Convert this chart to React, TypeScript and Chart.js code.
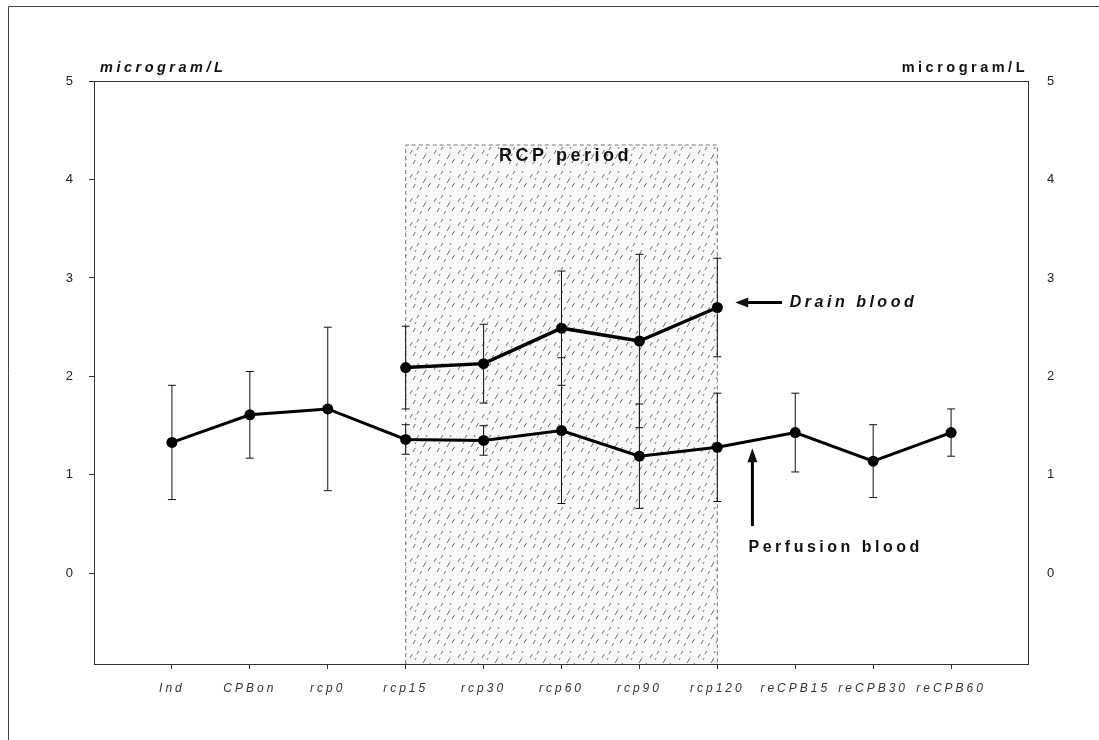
import React, { useEffect, useRef } from "react";
import { Chart, registerables } from "chart.js";

Chart.register(...registerables);

const categories = ["Ind", "CPBon", "rcp0", "rcp15", "rcp30", "rcp60", "rcp90", "rcp120", "reCPB15", "reCPB30", "reCPB60"];
const perfusion = [1.33, 1.61, 1.67, 1.36, 1.35, 1.45, 1.19, 1.28, 1.43, 1.14, 1.43];
const perfusionErr = [0.58, 0.44, 0.83, 0.15, 0.15, 0.74, 0.53, 0.55, 0.4, 0.37, 0.24];
const drain: (number | null)[] = [null, null, null, 2.09, 2.13, 2.49, 2.36, 2.7, null, null, null];
const drainErr: (number | null)[] = [null, null, null, 0.42, 0.4, 0.58, 0.88, 0.5, null, null, null];
const yTicks = [0, 1, 2, 3, 4, 5];
const yMin = -0.92;
const yMax = 5;
const rcpStart = 3;
const rcpEnd = 7;
const rcpTop = 4.35;

const FONT = "'Liberation Sans', Arial, sans-serif";

function makePattern(ctx: CanvasRenderingContext2D) {
  const tile = document.createElement("canvas");
  tile.width = 24;
  tile.height = 24;
  const t = tile.getContext("2d")!;
  t.fillStyle = "#f8f8f8";
  t.fillRect(0, 0, 24, 24);
  t.strokeStyle = "#707070";
  t.lineWidth = 1;
  const strokes = [
    [2, 6, 4], [9, 3, 3], [15, 10, 5], [5, 16, 4], [12, 19, 3], [20, 15, 4], [7, 10, 2], [18, 3, 2],
  ];
  strokes.forEach(([x, y, l]) => {
    t.beginPath();
    t.moveTo(x, y + l);
    t.lineTo(x + l * 0.6, y);
    t.stroke();
  });
  return ctx.createPattern(tile, "repeat");
}

function arrowHead(ctx: CanvasRenderingContext2D, tx: number, ty: number, dx: number, dy: number, len: number, half: number) {
  const px = -dy, py = dx;
  ctx.beginPath();
  ctx.moveTo(tx, ty);
  ctx.lineTo(tx + dx * len + px * half, ty + dy * len + py * half);
  ctx.lineTo(tx + dx * len - px * half, ty + dy * len - py * half);
  ctx.closePath();
  ctx.fill();
}

const annotPlugin = {
  id: "annot",
  beforeDraw(chart: any) {
    const ctx = chart.ctx as CanvasRenderingContext2D;
    (ctx as any).letterSpacing = "3px";
  },
  beforeDatasetsDraw(chart: any) {
    const ctx = chart.ctx as CanvasRenderingContext2D;
    const xs = chart.scales.x, ys = chart.scales.y;
    const ca = chart.chartArea;
    const x0 = xs.getPixelForValue(rcpStart), x1 = xs.getPixelForValue(rcpEnd);
    const yT = ys.getPixelForValue(rcpTop);
    ctx.save();
    const pat = makePattern(ctx);
    if (pat) ctx.fillStyle = pat;
    ctx.fillRect(x0, yT, x1 - x0, ca.bottom - yT);
    ctx.strokeStyle = "#777";
    ctx.lineWidth = 1;
    ctx.setLineDash([4, 3]);
    ctx.beginPath();
    ctx.moveTo(x0, ca.bottom);
    ctx.lineTo(x0, yT);
    ctx.lineTo(x1, yT);
    ctx.lineTo(x1, ca.bottom);
    ctx.stroke();
    ctx.setLineDash([]);
    ctx.strokeStyle = "#111";
    ctx.lineWidth = 1;
    const bars = (vals: (number | null)[], errs: (number | null)[]) => {
      vals.forEach((v, i) => {
        const e = errs[i];
        if (v == null || e == null) return;
        const x = xs.getPixelForValue(i);
        const yTop = ys.getPixelForValue(v + e);
        const yBot = ys.getPixelForValue(v - e);
        ctx.beginPath();
        ctx.moveTo(x, yTop);
        ctx.lineTo(x, yBot);
        ctx.moveTo(x - 4, yTop);
        ctx.lineTo(x + 4, yTop);
        ctx.moveTo(x - 4, yBot);
        ctx.lineTo(x + 4, yBot);
        ctx.stroke();
      });
    };
    bars(perfusion, perfusionErr);
    bars(drain, drainErr);
    ctx.restore();
  },
  afterDraw(chart: any) {
    const ctx = chart.ctx as CanvasRenderingContext2D;
    const xs = chart.scales.x, ys = chart.scales.y;
    const ca = chart.chartArea;
    ctx.save();
    ctx.strokeStyle = "#444";
    ctx.lineWidth = 1;
    ctx.beginPath();
    ctx.moveTo(8.5, 740);
    ctx.lineTo(8.5, 6.5);
    ctx.lineTo(1099, 6.5);
    ctx.stroke();
    ctx.strokeStyle = "#333";
    ctx.strokeRect(ca.left + 0.5, ca.top + 0.5, ca.right - ca.left - 1, ca.bottom - ca.top);
    (ctx as any).letterSpacing = "3.5px";
    ctx.fillStyle = "#111";
    ctx.textBaseline = "middle";
    ctx.textAlign = "left";
    ctx.font = `italic bold 14.5px ${FONT}`;
    ctx.fillText("microgram/L", 100, 68);
    ctx.textAlign = "right";
    ctx.font = `bold 14.5px ${FONT}`;
    ctx.fillText("microgram/L", 1028, 68);
    ctx.textAlign = "center";
    ctx.font = `bold 18px ${FONT}`;
    ctx.fillText("RCP period", xs.getPixelForValue(5.05), ys.getPixelForValue(4.24));
    ctx.textAlign = "left";
    ctx.font = `italic bold 16px ${FONT}`;
    ctx.fillText("Drain blood", xs.getPixelForValue(7.93), ys.getPixelForValue(2.75));
    ctx.font = `bold 16px ${FONT}`;
    ctx.fillText("Perfusion blood", xs.getPixelForValue(7.4), ys.getPixelForValue(0.26));
    ctx.strokeStyle = "#000";
    ctx.lineWidth = 3;
    const dTipX = xs.getPixelForValue(7.23), dTailX = xs.getPixelForValue(7.83), dY = ys.getPixelForValue(2.75);
    ctx.beginPath();
    ctx.moveTo(dTailX, dY);
    ctx.lineTo(dTipX + 8, dY);
    ctx.stroke();
    arrowHead(ctx, dTipX, dY, 1, 0, 13, 5);
    const pX = xs.getPixelForValue(7.45), pTip = ys.getPixelForValue(1.27), pTail = ys.getPixelForValue(0.48);
    ctx.beginPath();
    ctx.moveTo(pX, pTail);
    ctx.lineTo(pX, pTip + 8);
    ctx.stroke();
    arrowHead(ctx, pX, pTip, 0, 1, 14, 5);
    ctx.restore();
  },
};

export default function App() {
  const ref = useRef<HTMLCanvasElement>(null);
  useEffect(() => {
    if (!ref.current) return;
    const chart = new Chart(ref.current, {
      type: "line",
      data: {
        datasets: [
          {
            label: "Perfusion blood",
            data: perfusion.map((v, i) => ({ x: i, y: v })),
            borderColor: "#000",
            backgroundColor: "#000",
            borderWidth: 3,
            pointRadius: 5.5,
            pointBackgroundColor: "#000",
            pointBorderWidth: 0,
            tension: 0,
          },
          {
            label: "Drain blood",
            data: drain.map((v, i) => ({ x: i, y: v })) as any,
            borderColor: "#000",
            backgroundColor: "#000",
            borderWidth: 3.5,
            pointRadius: 5.5,
            pointBackgroundColor: "#000",
            pointBorderWidth: 0,
            tension: 0,
            spanGaps: false,
          },
        ],
      },
      options: {
        responsive: false,
        animation: false,
        layout: { padding: { top: 81, left: 0, right: 0, bottom: 0 } },
        plugins: { legend: { display: false }, tooltip: { enabled: false } },
        scales: {
          x: {
            type: "linear",
            min: -1,
            max: 11,
            afterBuildTicks: (s: any) => {
              s.ticks = categories.map((_, i) => ({ value: i }));
            },
            afterFit: (s: any) => {
              s.height = 76;
            },
            ticks: {
              callback: (v: any) => categories[v] ?? "",
              font: { family: FONT, size: 12, style: "italic" },
              color: "#333",
              padding: 12,
              autoSkip: false,
              maxRotation: 0,
            },
            grid: { drawOnChartArea: false, tickLength: 5, color: "#333" },
            border: { display: false },
          },
          y: {
            position: "left",
            min: yMin,
            max: yMax,
            afterBuildTicks: (s: any) => {
              s.ticks = yTicks.map((v) => ({ value: v }));
            },
            afterFit: (s: any) => {
              s.width = 94;
            },
            ticks: { font: { family: FONT, size: 13 }, color: "#222", padding: 13 },
            grid: { drawOnChartArea: false, tickLength: 5, color: "#333" },
            border: { display: false },
          },
          y2: {
            position: "right",
            min: yMin,
            max: yMax,
            afterBuildTicks: (s: any) => {
              s.ticks = yTicks.map((v) => ({ value: v }));
            },
            afterFit: (s: any) => {
              s.width = 70;
            },
            ticks: { font: { family: FONT, size: 13 }, color: "#222", padding: 18 },
            grid: { drawOnChartArea: false, drawTicks: false },
            border: { display: false },
          },
        },
      },
      plugins: [annotPlugin],
    });
    return () => chart.destroy();
  }, []);
  return (
    <div style={{ position: "absolute", left: 0, top: 0, width: 1099, height: 740, background: "#fff" }}>
      <canvas ref={ref} width={1099} height={740} style={{ display: "block" }} />
    </div>
  );
}
